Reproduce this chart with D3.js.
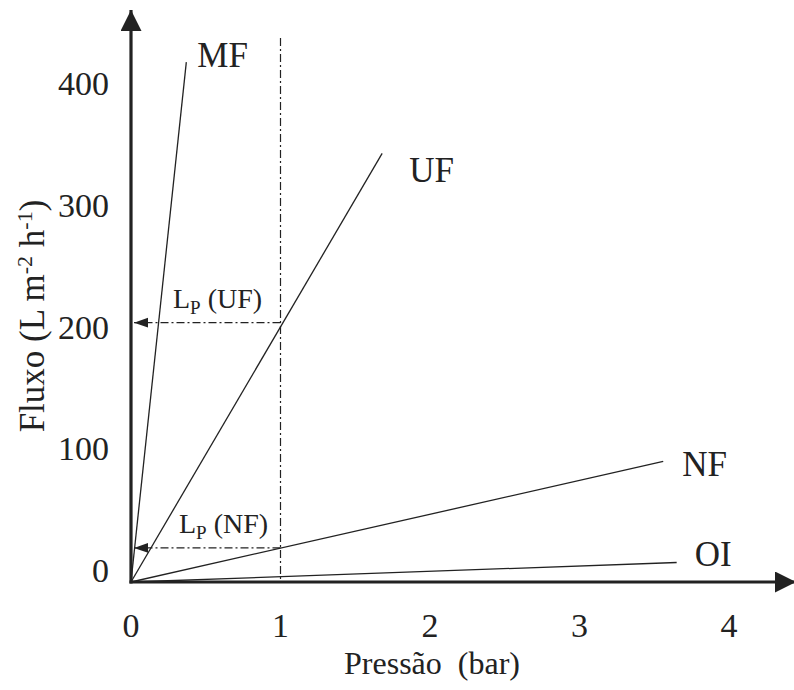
<!DOCTYPE html>
<html>
<head>
<meta charset="utf-8">
<script src="https://cdn.jsdelivr.net/npm/d3@7"></script>
<style>
  body { margin: 0; background: #fff; }
  svg { display: block; font-family: "Liberation Serif", "DejaVu Serif", serif; }
</style>
</head>
<body>
<svg width="794" height="690"></svg>
<script>
// dados
const membranas = ["MF", "UF", "NF", "OI"];
const pressaoFim = [0.37, 1.68, 3.56, 3.65];   // bar, fim de cada reta
const fluxoFim = [427, 352, 99, 16];          // L m-2 h-1
const xTicks = [0, 1, 2, 3, 4];
const yTicks = [0, 100, 200, 300, 400];
const lpNomes = ["UF", "NF"];
const lpFluxo = [213, 28];                    // fluxo a 1 bar
const pressaoRef = 1;

const svg = d3.select("svg");
const x = d3.scaleLinear().domain([0, 4]).range([131, 729]);
const y = d3.scaleLinear().domain([0, 400]).range([582, 95]);
const ink = "#222";

// setas
const defs = svg.append("defs");
defs.append("marker").attr("id", "ponta").attr("viewBox", "0 0 10 10")
  .attr("refX", 10).attr("refY", 5).attr("markerWidth", 14).attr("markerHeight", 14)
  .attr("markerUnits", "userSpaceOnUse").attr("orient", "auto")
  .append("path").attr("d", "M0,1.5L10,5L0,8.5Z").attr("fill", ink);
defs.append("marker").attr("id", "eixo").attr("viewBox", "0 0 10 10")
  .attr("refX", 10).attr("refY", 5).attr("markerWidth", 21).attr("markerHeight", 21)
  .attr("markerUnits", "userSpaceOnUse").attr("orient", "auto")
  .append("path").attr("d", "M0,0L10,5L0,10Z").attr("fill", ink);

// reta vertical a 1 bar
svg.append("line")
  .attr("x1", x(pressaoRef)).attr("x2", x(pressaoRef))
  .attr("y1", 38).attr("y2", y(0))
  .attr("stroke", ink).attr("stroke-width", 1.2)
  .attr("stroke-dasharray", "8,3,2,3");

// Lp: linhas horizontais com seta
lpNomes.forEach((n, i) => {
  svg.append("line")
    .attr("x1", x(pressaoRef)).attr("x2", x(0) + 3)
    .attr("y1", y(lpFluxo[i])).attr("y2", y(lpFluxo[i]))
    .attr("stroke", ink).attr("stroke-width", 1.2)
    .attr("stroke-dasharray", "8,3,2,3")
    .attr("marker-end", "url(#ponta)");
  const t = svg.append("text")
    .attr("x", x(0) + 42 + i * 6).attr("y", y(lpFluxo[i]) - 15)
    .attr("font-size", 28).attr("fill", ink);
  t.append("tspan").text("L");
  t.append("tspan").attr("font-size", 19).attr("dy", 6).text("P");
  t.append("tspan").attr("dy", -6).text(" (" + n + ")");
});

// retas das membranas
membranas.forEach((m, i) => {
  svg.append("line")
    .attr("x1", x(0)).attr("y1", y(0))
    .attr("x2", x(pressaoFim[i])).attr("y2", y(fluxoFim[i]))
    .attr("stroke", ink).attr("stroke-width", 1.3);
});
const rotDx = [11, 27, 19, 18];
const rotDy = [5, 29, 15, 3];
svg.selectAll(".rot").data(membranas).enter().append("text")
  .attr("x", (d, i) => x(pressaoFim[i]) + rotDx[i])
  .attr("y", (d, i) => y(fluxoFim[i]) + rotDy[i])
  .attr("font-size", 35).attr("fill", ink)
  .text(d => d);

// eixos
svg.append("line").attr("x1", x(0)).attr("y1", y(0) + 1.5)
  .attr("x2", x(0)).attr("y2", 10)
  .attr("stroke", ink).attr("stroke-width", 3.2).attr("marker-end", "url(#eixo)");
svg.append("line").attr("x1", x(0) - 1.5).attr("y1", y(0))
  .attr("x2", 796).attr("y2", y(0))
  .attr("stroke", ink).attr("stroke-width", 3.2).attr("marker-end", "url(#eixo)");

svg.selectAll(".xt").data(xTicks).enter().append("text")
  .attr("x", d => x(d)).attr("y", 637)
  .attr("text-anchor", "middle").attr("font-size", 34).attr("fill", ink)
  .text(d => d);
svg.selectAll(".yt").data(yTicks).enter().append("text")
  .attr("x", 109).attr("y", d => y(d))
  .attr("text-anchor", "end").attr("font-size", 34).attr("fill", ink)
  .text(d => d);

svg.append("text").attr("x", 432).attr("y", 674)
  .attr("text-anchor", "middle").attr("font-size", 32).attr("fill", ink)
  .attr("xml:space", "preserve")
  .text("Pressão  (bar)");

const yt = svg.append("text")
  .attr("transform", "translate(44,316) rotate(-90)")
  .attr("text-anchor", "middle").attr("font-size", 35).attr("fill", ink)
  .attr("xml:space", "preserve");
yt.append("tspan").text("Fluxo (L m");
yt.append("tspan").attr("font-size", 22).attr("dy", -12).text("-2");
yt.append("tspan").attr("dy", 12).text(" h");
yt.append("tspan").attr("font-size", 22).attr("dy", -12).text("-1");
yt.append("tspan").attr("dy", 12).text(")");
</script>
</body>
</html>
